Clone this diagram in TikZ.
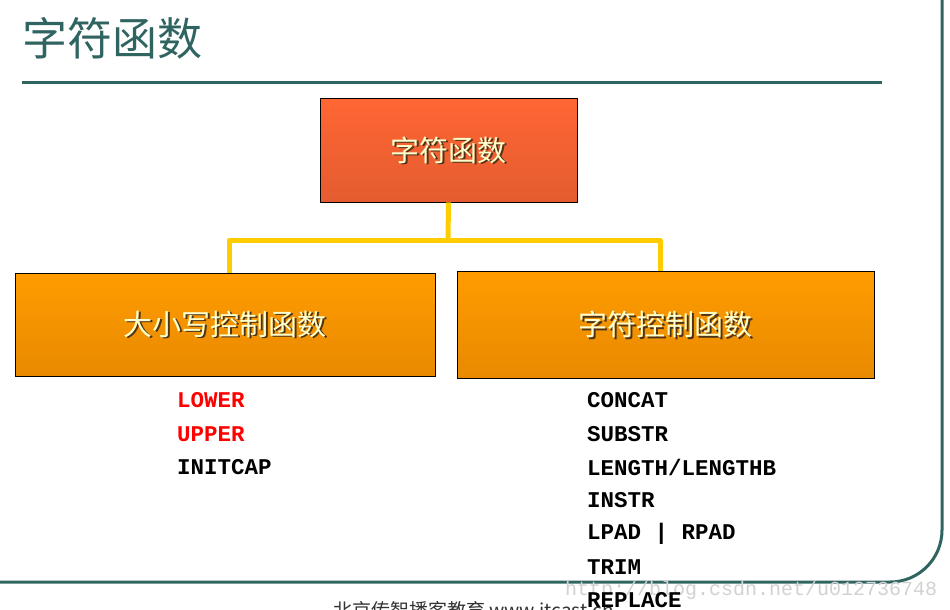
\documentclass[tikz,border=0pt]{standalone}
\usepackage{fontspec}
\newfontfamily\cjk{Noto Sans CJK SC}
\newfontfamily\mono{Liberation Mono}
\newfontfamily\serif{Liberation Serif}
\definecolor{borderc}{HTML}{2F6461}
\definecolor{conn}{HTML}{FFCC00}
\definecolor{cream}{HTML}{FFFFCC}
\tikzset{
  boxtext/.style={font=\cjk\fontsize{29}{32}\selectfont, text=cream},
  item/.style={font=\mono\bfseries\fontsize{22.5}{24}\selectfont, anchor=west, inner sep=0pt},
  link/.style={conn, line width=5pt}
}
\begin{document}
\begin{tikzpicture}[x=1pt,y=-1pt]
\useasboundingbox (0,0) rectangle (950,610);
\node[anchor=west, inner sep=0pt, text=borderc, font=\cjk\fontsize{45}{48}\selectfont] (title) at (22,38) {字符函数};
\draw[borderc, line width=3pt] (22,82) -- (882,82);
\draw[borderc, line width=3pt] (942,0) -- (942,530) to[out=270,in=0] (890,582) -- (0,582);
% boxes
\node[draw, line width=0.8pt, minimum width=257pt, minimum height=104pt, inner sep=0pt,
  top color={rgb,255:red,255;green,102;blue,51}, bottom color={rgb,255:red,228;green,92;blue,48}] (top) at (448.5,150) {};
\node[draw, line width=0.8pt, minimum width=420pt, minimum height=103pt, inner sep=0pt,
  top color={rgb,255:red,255;green,156;blue,0}, bottom color={rgb,255:red,232;green,138;blue,0}] (left) at (225,324.5) {};
\node[draw, line width=0.8pt, minimum width=417pt, minimum height=107pt, inner sep=0pt,
  top color={rgb,255:red,255;green,156;blue,0}, bottom color={rgb,255:red,232;green,138;blue,0}] (right) at (665.5,324.5) {};
\foreach \n/\t in {top/字符函数, left/大小写控制函数, right/字符控制函数}{
  \node[boxtext, text=black!60!brown] at ([xshift=1.5pt,yshift=-1.5pt]\n.center) {\t};
  \node[boxtext] at (\n.center) {\t};
}
% connectors
\coordinate (mid) at (448,240);
\coordinate (lt) at (229,240);
\coordinate (rt) at (660,240);
\draw[link] (top.south) -- (mid);
\draw[link, line join=round] (lt |- left.north) -- (lt) -- (rt) -- (rt |- right.north);
% lists
\node[item, text=red] (l1) at (177,400) {LOWER};
\node[item, text=red] (l2) at (177,434) {UPPER};
\node[item] (l3) at (177,467) {INITCAP};
\node[anchor=west, inner sep=0pt, font=\cjk\fontsize{19}{22}\selectfont, text=black!80] (foot) at (333,610) {北京传智播客教育 www.itcast.cn};
\node[anchor=west, inner sep=0pt, font=\mono\fontsize{20}{22}\selectfont, text=black!18] (wm) at (565,590) {http://blog.csdn.net/u012736748};
\node[item] (r1) at (587,400) {CONCAT};
\node[item] (r2) at (587,434) {SUBSTR};
\node[item] (r3) at (587,467) {LENGTH/LENGTHB};
\node[item] (r4) at (587,500) {INSTR};
\node[item] (r5) at (587,534) {LPAD | RPAD};
\node[item] (r6) at (587,567) {TRIM};
\node[item] (r7) at (587,600) {REPLACE};
\end{tikzpicture}
\end{document}
